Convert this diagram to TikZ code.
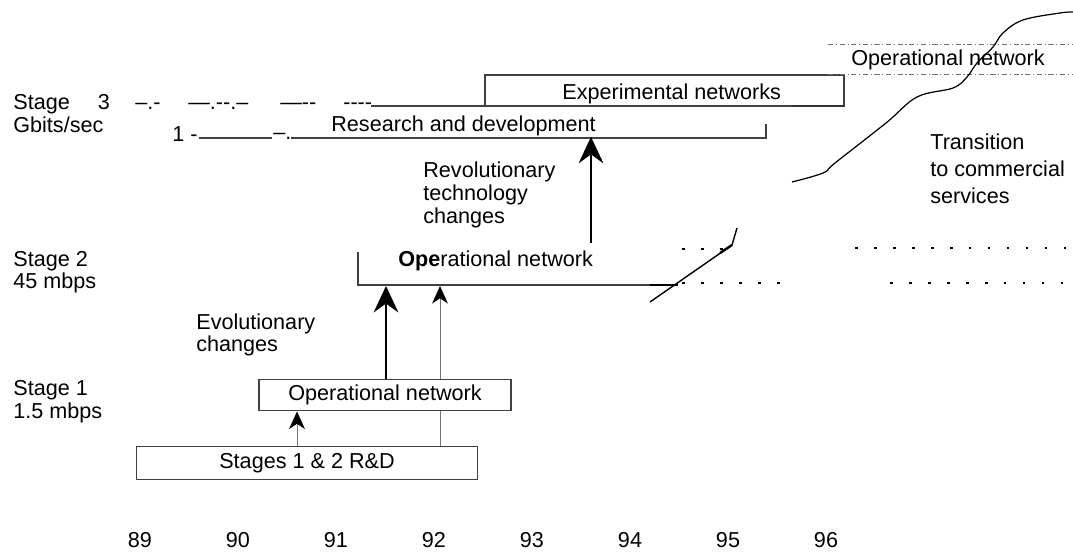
\documentclass[tikz,border=0pt]{standalone}
\usepackage{fontspec}
\setmainfont{Liberation Sans}
\usetikzlibrary{arrows.meta}

\begin{document}
\begin{tikzpicture}[x=0.02cm,y=-0.02cm,
  font=\fontsize{12.3}{14}\selectfont,
  lbl/.style={anchor=base west,inner sep=0pt},
  frame/.style={draw=black!75,line width=0.6pt},
  bigarrow/.style={line width=1.7pt,-{Stealth[length=15pt,width=14pt,inset=5pt]}},
  thinarrow/.style={draw=black!55,line width=0.5pt,-{Stealth[length=10pt,width=9pt,inset=3pt,color=black]}},
  sparse/.style={line width=0.8pt,dash pattern=on 1.5pt off 9.3pt}]
  \useasboundingbox (0,0) rectangle (1073,557);

  % stage labels
  \node[lbl] (st3) at (13,110) {Stage\hspace{0.56cm}3};
  \node[lbl] (gbit) at (13,133) {Gbits/sec};
  \node[lbl] (st2) at (13,267) {Stage 2};
  \node[lbl] (mb45) at (13,289) {45 mbps};
  \node[lbl] (st1) at (13,396) {Stage 1};
  \node[lbl] (mb15) at (13,419) {1.5 mbps};

  % stage 3
  \node[lbl] (frA) at (135,110) {–.-};
  \node[lbl] (frB) at (188,110) {—.-{}-.–};
  \node[lbl] (frC) at (280,110) {—-{}-};
  \node[lbl] (frD) at (343,110) {-{}-{}-{}-};
  \draw[frame] (371,106) -- (844,106) -- (844,75) -- (485,75) -- (485,106);
  \draw[line width=1pt,black!80] (792,106) -- (844,106);
  \node[lbl] (expnet) at (562,100) {Experimental networks};
  \node[lbl] (frE) at (172,142) {1 -};
  \draw[frame] (199,138) -- (272,138);
  \node[lbl] (frF) at (273,140) {–.};
  \draw[frame] (291,138) -- (766,138) -- (766,124);
  \node[lbl] (rd3) at (331,132) {Research and development};

  \draw[draw=black!55,line width=0.5pt,dash pattern=on 3pt off 1.5pt on 0.6pt off 1.5pt] (828,44) -- (1073,44) (828,74) -- (1073,74);
  \node[lbl] (op3) at (851,66) {Operational network};
  \draw[line width=0.7pt] plot[smooth,tension=0.6] coordinates {(792,182) (823,173) (835,163) (886,123) (917,97) (953,88) (967,77) (977,63) (993,47) (1003,33) (1023,20) (1060,13) (1073,12)};
  \node[lbl] (trA) at (930,150) {Transition};
  \node[lbl] (trB) at (930,177) {to commercial};
  \node[lbl] (trC) at (930,204) {services};

  \node[lbl] (revA) at (423,178) {Revolutionary};
  \node[lbl] (revB) at (423,201) {technology};
  \node[lbl] (revC) at (423,224) {changes};
  \coordinate (revfoot) at (591,243);
  \draw[bigarrow] (revfoot) -- (revfoot |- rd3.south);

  % stage 2
  \draw[frame] (358,252) -- (358,285) -- (678,285);
  \draw[line width=1pt] (650,285) -- (678,285);
  \node[lbl] (op2) at (398,267) {\textbf{Ope}rational network};
  \draw[line width=0.8pt] (650,302) -- (732,245) -- (737,228);
  \draw[line width=1.4pt] (720,253) -- (732,245);
  \draw[sparse] (682,249) -- (730,249);
  \draw[sparse] (682,283) -- (795,283);
  \draw[sparse] (855,248) -- (1073,248);
  \draw[sparse] (890,283) -- (1073,283);

  \node[lbl] (evoA) at (196,330) {Evolutionary};
  \node[lbl] (evoB) at (196,352) {changes};

  % stage 1
  \node[frame,minimum width=5.04cm,minimum height=0.6cm] (op1) at (385,395) {Operational network};
  \node[frame,minimum width=6.84cm,minimum height=0.66cm] (rd12) at (307,463) {Stages 1 \& 2 R\&D};
  \coordinate (upA) at (386,286);
  \coordinate (upB) at (440,286);
  \coordinate (upC) at (297,0);
  \draw[bigarrow] (op1.north -| upA) -- (upA);
  \draw[thinarrow] (op1.north -| upB) -- (upB);
  \draw[draw=black!55,line width=0.5pt] (rd12.north -| upB) -- (op1.south -| upB);
  \draw[thinarrow] (rd12.north -| upC) -- (op1.south -| upC);

  \foreach \yr [count=\i from 0] in {89,...,96}
    \node[anchor=base] (yr\yr) at (140+98*\i,547) {\yr};
\end{tikzpicture}
\end{document}
